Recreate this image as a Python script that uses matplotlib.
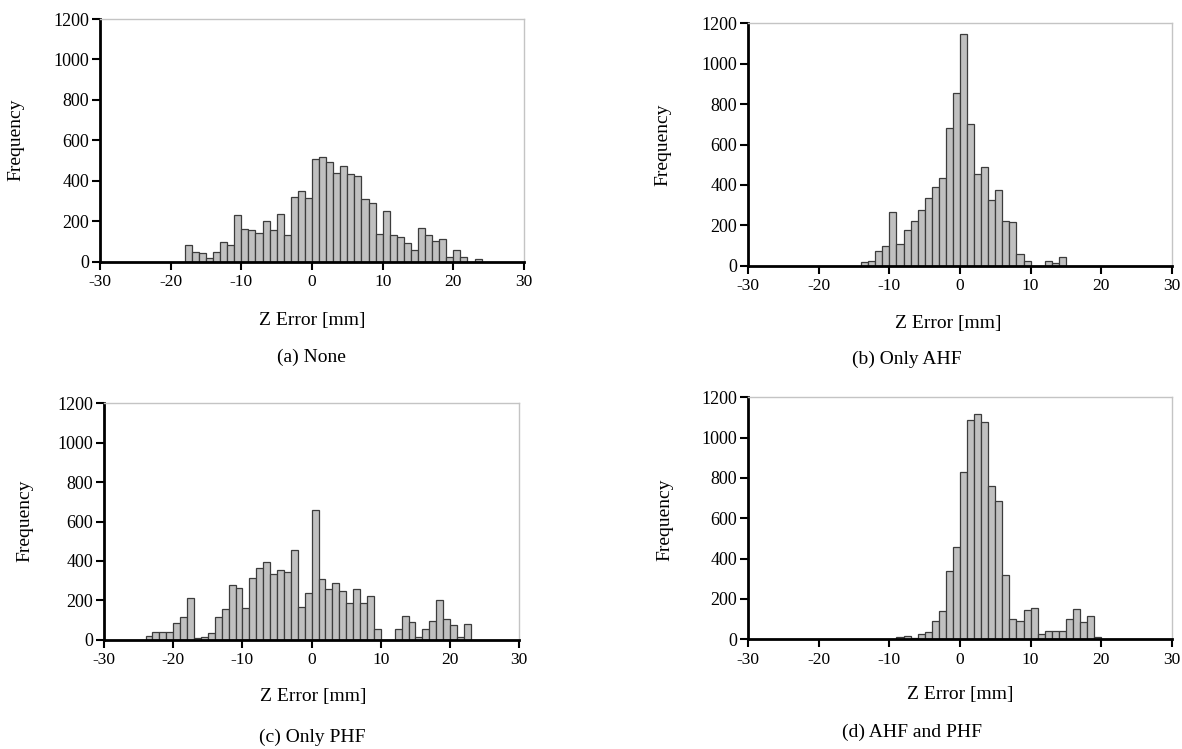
import matplotlib.pyplot as plt
import numpy as np

plt.rcParams['font.family'] = ['Liberation Serif', 'DejaVu Serif']
plt.rcParams['axes.unicode_minus'] = False

# histogram counts, 1 mm bins, first bin left edge given
start_a = -18
counts_a = [82, 46, 41, 16, 49, 96, 82, 229, 160, 157, 140, 199, 155, 237, 134,
            318, 349, 315, 506, 516, 491, 437, 475, 432, 424, 308, 292, 137, 249,
            130, 124, 91, 59, 165, 130, 104, 112, 25, 56, 21, 0, 12]

start_b = -14
counts_b = [17, 23, 73, 96, 266, 106, 177, 220, 276, 333, 388, 434, 680, 857,
            1147, 703, 454, 487, 324, 373, 221, 216, 56, 21, 0, 0, 21, 12, 45]

start_c = -24
counts_c = [19, 41, 37, 39, 83, 113, 212, 8, 12, 32, 113, 157, 276, 264, 161,
            311, 366, 393, 332, 355, 345, 454, 168, 239, 658, 308, 259, 289, 249,
            188, 256, 188, 223, 56, 0, 0, 56, 120, 90, 12, 56, 93, 201, 107, 76,
            15, 78]

start_d = -9
counts_d = [12, 18, 5, 28, 35, 91, 142, 340, 458, 830, 1089, 1119, 1076, 762,
            688, 321, 101, 91, 144, 154, 25, 40, 40, 40, 101, 149, 88, 117, 13]

captions = ['(a) None', '(b) Only AHF', '(c) Only PHF', '(d) AHF and PHF']

W, H = 1182, 749
fig = plt.figure(figsize=(W / 100, H / 100), dpi=100)

# axes boxes in pixels: left, right, top, bottom
boxes = [(100, 524, 19, 261.7),
         (748.3, 1171.7, 23.3, 265.7),
         (104, 519.3, 403.3, 639.7),
         (748.3, 1171.7, 397.3, 639.3)]
xlabel_pos = [(312, 320), (948, 323), (313, 697), (960, 694)]
caption_pos = [(311, 357), (907, 359), (312, 737), (912, 732)]
ylabel_pos = [(16, 140), (663, 145), (25, 521), (665, 520)]

data = [(start_a, counts_a), (start_b, counts_b), (start_c, counts_c), (start_d, counts_d)]

for i, (st, cnt) in enumerate(data):
    l, r, t, b = boxes[i]
    ax = fig.add_axes([l / W, 1 - b / H, (r - l) / W, (b - t) / H])
    edges = np.arange(st, st + len(cnt))
    ax.bar(edges, cnt, width=1, align='edge', color='#c0c0c0',
           edgecolor='#3c3c3c', linewidth=0.9)
    ax.set_xlim(-30, 30)
    ax.set_ylim(0, 1200)
    ax.set_xticks(np.arange(-30, 31, 10))
    ax.set_yticks(np.arange(0, 1201, 200))
    for s in ['left', 'bottom']:
        ax.spines[s].set_color('black')
        ax.spines[s].set_linewidth(2)
    for s in ['top', 'right']:
        ax.spines[s].set_color('#c4c4c4')
        ax.spines[s].set_linewidth(1)
    ax.tick_params(axis='both', direction='out', length=5.5, width=1.5)
    ax.tick_params(axis='x', labelsize=12.5, pad=3.5)
    ax.tick_params(axis='y', labelsize=13, pad=2.5)
    fig.text(xlabel_pos[i][0] / W, 1 - xlabel_pos[i][1] / H, 'Z Error [mm]',
             ha='center', va='center', fontsize=14)
    fig.text(caption_pos[i][0] / W, 1 - caption_pos[i][1] / H, captions[i],
             ha='center', va='center', fontsize=14)
    fig.text(ylabel_pos[i][0] / W, 1 - ylabel_pos[i][1] / H, 'Frequency',
             rotation=90, ha='center', va='center', fontsize=14)

fig.savefig('out.png', dpi=100)
